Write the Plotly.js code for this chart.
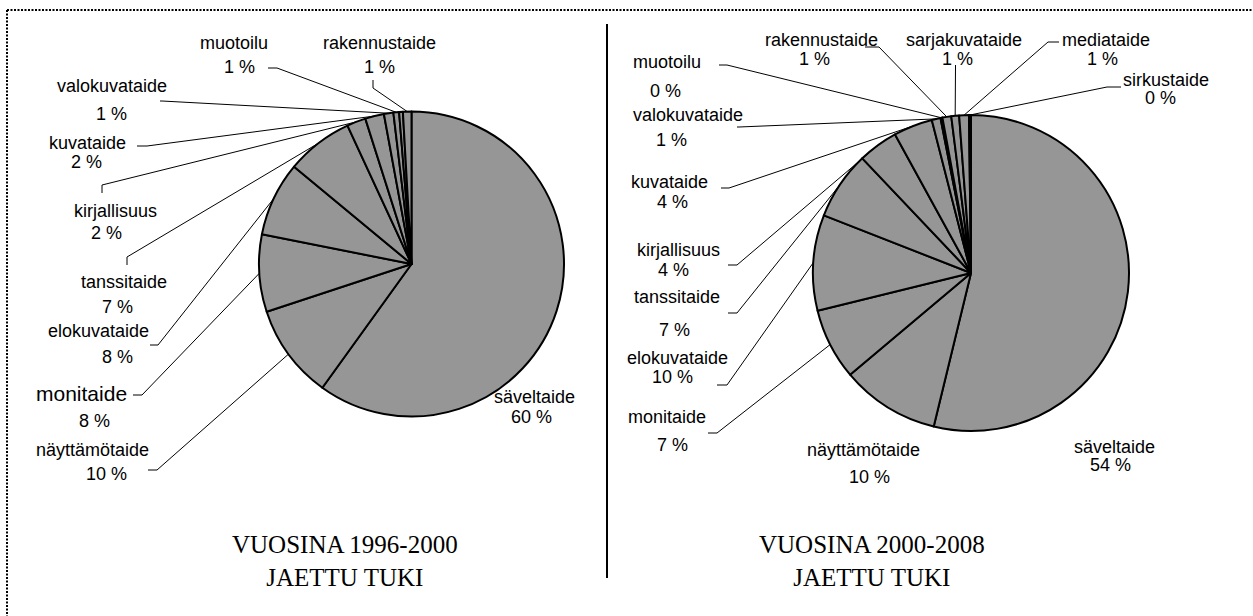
<!DOCTYPE html>
<html><head><meta charset="utf-8">
<script src="https://cdn.plot.ly/plotly-3.0.1.min.js"></script>
<style>html,body{margin:0;padding:0;background:#fff;}</style>
</head><body>
<div id="chart" style="width:1253px;height:616px"></div>
<script>
// ---------- DATA ----------
const leftCategories = ['säveltaide','näyttämötaide','monitaide','elokuvataide','tanssitaide','kirjallisuus','kuvataide','valokuvataide','muotoilu','muu','rakennustaide'];
const leftValues     = [60.0, 10.0, 8.2, 7.9, 7.1, 2.0, 2.0, 1.0, 0.6, 0.4, 0.9];
const rightCategories = ['säveltaide','näyttämötaide','monitaide','elokuvataide','tanssitaide','kirjallisuus','kuvataide','valokuvataide','muotoilu','rakennustaide','sarjakuvataide','mediataide','sirkustaide'];
const rightValues     = [53.9, 10.1, 7.3, 9.8, 7.0, 4.1, 4.0, 0.9, 0.2, 0.9, 0.8, 1.0, 0.2];
const leftTitle  = ['VUOSINA 1996-2000', 'JAETTU TUKI'];
const rightTitle = ['VUOSINA 2000-2008', 'JAETTU TUKI'];

// ---------- LAYOUT (pixel positions) ----------
const W = 1253, H = 616;
const leftPie  = {cx: 411.5, cy: 264, r: 152.5};
const rightPie = {cx: 971,   cy: 273, r: 158};
// per category: name centre, percent centre, leader start + elbow (null = no label / no leader)
const leftPlace = [
  {n:[534,397], p:[531,417], lead:null},
  {n:[93,450],  p:[106,474], lead:[[148,470],[157,470]]},
  {n:[81,393],  p:[95,421],  lead:[[133,395],[142,395]], size:21},
  {n:[98,331],  p:[117,357], lead:[[150,345],[158,345]]},
  {n:[124,282], p:[117,307], lead:[[127,265],[127,257]]},
  {n:[115,211], p:[106,233], lead:[[102,193],[102,185]]},
  {n:[87,143],  p:[86,162],  lead:[[137,146],[147,146]]},
  {n:[112,86],  p:[111,114], lead:[[160,101],[162,101]]},
  {n:[234,43],  p:[239,67],  lead:[[268,68],[277,68]]},
  null,
  {n:[379,43],  p:[379,67],  lead:[[373,80],[373,88]]}
];
const rightPlace = [
  {n:[1114,447], p:[1110,465], lead:null},
  {n:[863,450],  p:[869,477],  lead:null},
  {n:[667,417],  p:[672,445],  lead:[[708,433],[717,433]]},
  {n:[677,358],  p:[672,377],  lead:[[717,385],[727,385]]},
  {n:[677,297],  p:[674,330],  lead:[[728,313],[737,313]]},
  {n:[678,250],  p:[673,270],  lead:[[728,265],[737,265]]},
  {n:[669,182],  p:[672,202],  lead:[[721,188],[729,188]]},
  {n:[688,115],  p:[671,140],  lead:[[737,127],[739,127]]},
  {n:[667,62],   p:[665,91],   lead:[[719,65],[727,65]]},
  {n:[821,40],   p:[814,59],   lead:[[865,47],[879,47]]},
  {n:[964,40],   p:[957,59],   lead:[[955.5,65],[955.5,67]]},
  {n:[1106,40],  p:[1102,59],  lead:[[1059,42],[1048,42]]},
  {n:[1166,80],  p:[1160,98],  lead:[[1121,87],[1107,87]]}
];

const X = x => x / W, Y = y => 1 - y / H;
const FONT = 'Liberation Sans, Arial, sans-serif';
const SERIF = 'Liberation Serif, Times New Roman, serif';

function pieTrace(cats, vals, pie) {
  return {
    type: 'pie', labels: cats, values: vals, sort: false,
    direction: 'clockwise', rotation: 0, textinfo: 'none', hoverinfo: 'label+percent',
    marker: {colors: cats.map(() => '#969696'), line: {color: '#000', width: 2}},
    domain: {x: [X(pie.cx - pie.r), X(pie.cx + pie.r)], y: [Y(pie.cy + pie.r), Y(pie.cy - pie.r)]},
    showlegend: false
  };
}

const annotations = [], shapes = [];
function addLabels(cats, vals, pie, place) {
  const total = vals.reduce((a, b) => a + b, 0);
  let cum = 0;
  cats.forEach((c, i) => {
    const mid = (cum + vals[i] / 2) / total * 2 * Math.PI;
    cum += vals[i];
    const pl = place[i];
    if (!pl) return;
    const size = pl.size || 18;
    annotations.push({x: X(pl.n[0]), y: Y(pl.n[1]), xref: 'paper', yref: 'paper', text: c, showarrow: false,
      xanchor: 'center', yanchor: 'middle', font: {family: FONT, size: size, color: '#000'}});
    annotations.push({x: X(pl.p[0]), y: Y(pl.p[1]), xref: 'paper', yref: 'paper', text: Math.round(vals[i] / total * 100) + ' %', showarrow: false,
      xanchor: 'center', yanchor: 'middle', font: {family: FONT, size: 18, color: '#000'}});
    if (pl.lead) {
      const ex = pie.cx + pie.r * Math.sin(mid), ey = pie.cy - pie.r * Math.cos(mid);
      const [s, e] = pl.lead;
      shapes.push({type: 'path', xref: 'paper', yref: 'paper',
        path: `M ${X(s[0])} ${Y(s[1])} L ${X(e[0])} ${Y(e[1])} L ${X(ex)} ${Y(ey)}`,
        line: {color: '#000', width: 1}});
    }
  });
}
addLabels(leftCategories, leftValues, leftPie, leftPlace);
addLabels(rightCategories, rightValues, rightPie, rightPlace);

// titles (one two-line text each)
[[leftTitle, 345], [rightTitle, 872]].forEach(([t, cx]) => {
  annotations.push({x: X(cx), y: Y(561), xref: 'paper', yref: 'paper', text: t.join('<br>'),
    showarrow: false, xanchor: 'center', yanchor: 'middle', align: 'center',
    font: {family: SERIF, size: 25, color: '#000'}});
});

// frame + separator
shapes.push({type: 'line', xref: 'paper', yref: 'paper', x0: X(7), x1: X(1253), y0: Y(10), y1: Y(10), line: {color: '#000', width: 2, dash: '2px,1.5px'}});
shapes.push({type: 'line', xref: 'paper', yref: 'paper', x0: X(7), x1: X(7), y0: Y(10), y1: Y(616), line: {color: '#000', width: 2, dash: '2px,1.5px'}});
shapes.push({type: 'line', xref: 'paper', yref: 'paper', x0: X(607), x1: X(607), y0: Y(24), y1: Y(578), line: {color: '#000', width: 2}});

Plotly.newPlot('chart', [pieTrace(leftCategories, leftValues, leftPie), pieTrace(rightCategories, rightValues, rightPie)], {
  width: W, height: H, margin: {l: 0, r: 0, t: 0, b: 0},
  paper_bgcolor: '#fff', plot_bgcolor: '#fff',
  annotations: annotations, shapes: shapes, showlegend: false
}, {displayModeBar: false, staticPlot: true});
</script>
</body></html>
